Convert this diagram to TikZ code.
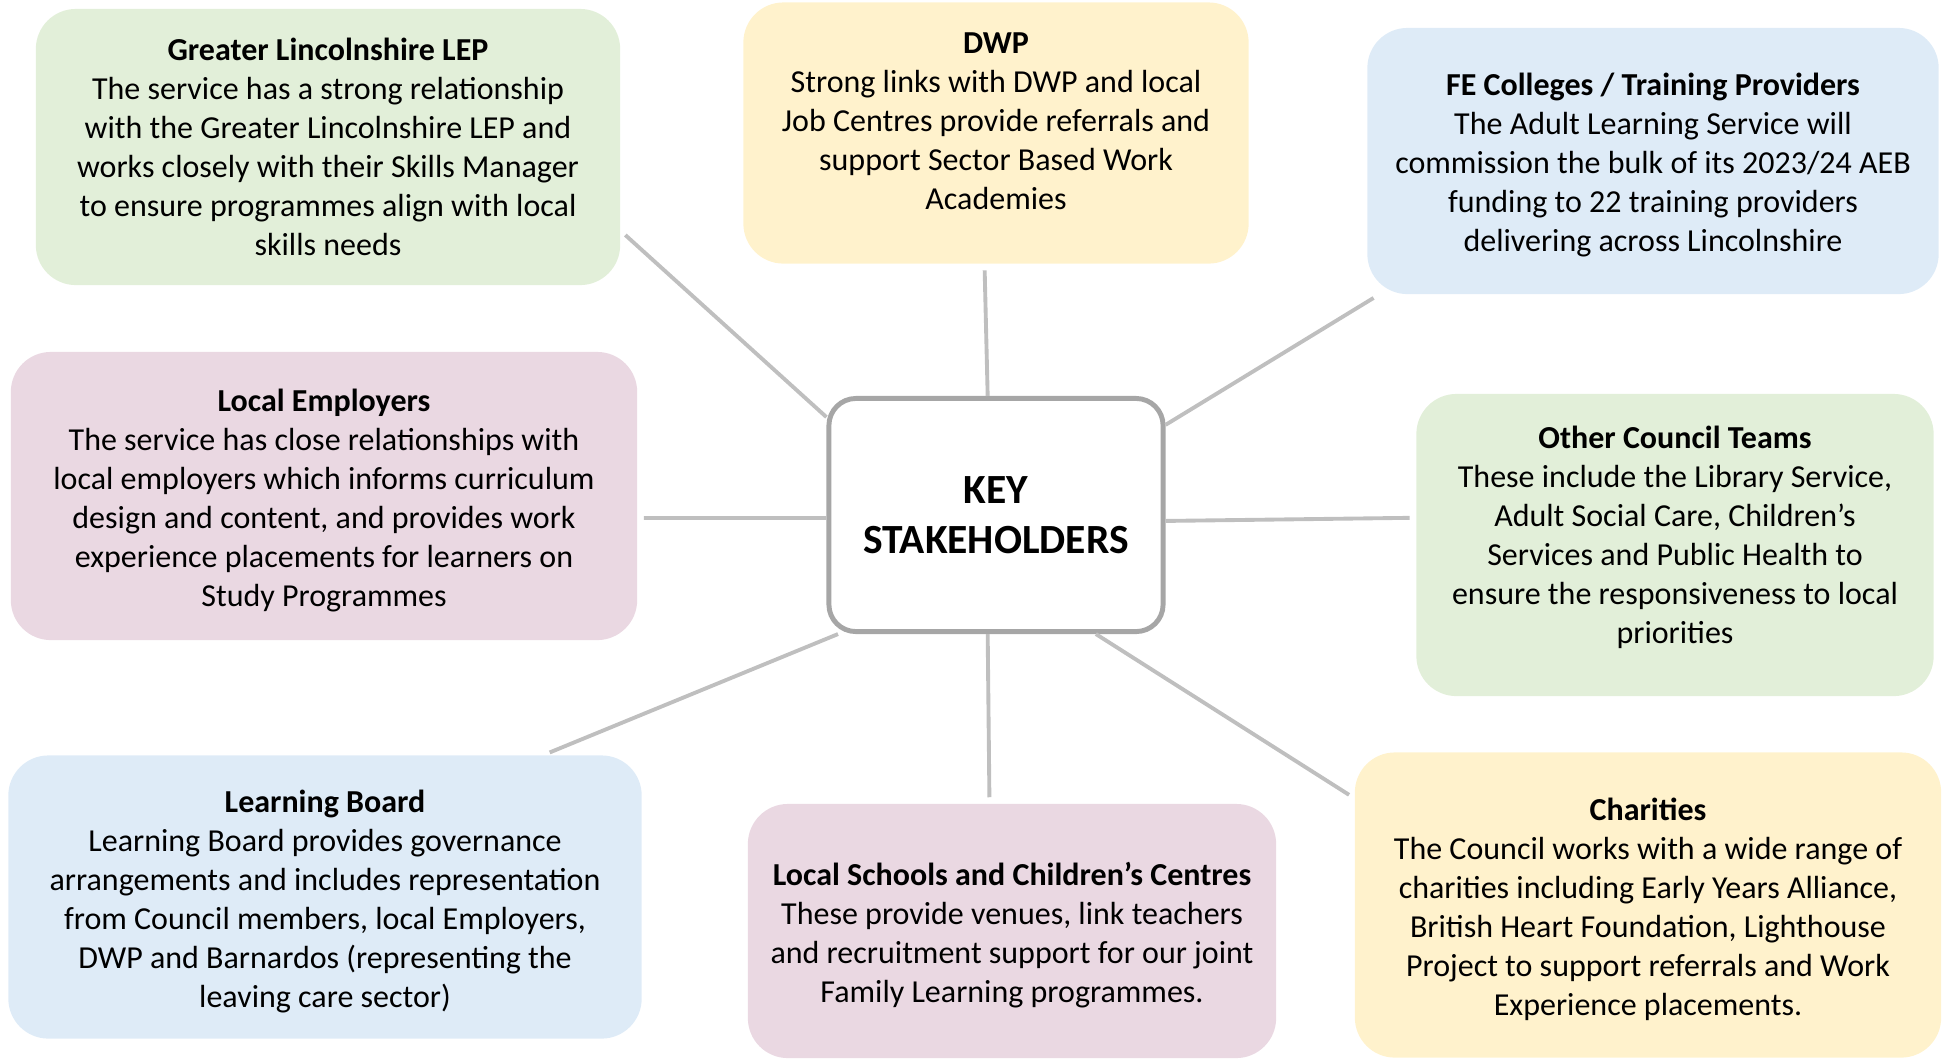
\documentclass[tikz,border=0pt]{standalone}
\usepackage{fontspec}
\setmainfont{Carlito}
\definecolor{leafgreen}{HTML}{E2EFD9}
\definecolor{sand}{HTML}{FFF2CC}
\definecolor{sky}{HTML}{DEEBF7}
\definecolor{blush}{HTML}{EAD8E2}
\definecolor{rimgrey}{HTML}{A6A6A6}
\definecolor{linkgrey}{HTML}{BFBFBF}
% extra room above a heading pushes the text block down a little
\newcommand{\headroom}{\rule{0pt}{0.31cm}}

\tikzset{
  stakebox/.style={rounded corners=0.4cm, align=center, inner sep=0pt,
    font=\fontsize{9.1}{11.1}\selectfont},
  keybox/.style={draw=rimgrey, line width=1.4pt, fill=white, rounded corners=0.27cm,
    align=center, font=\fontsize{11.8}{14.4}\selectfont\bfseries,
    minimum width=3.34cm, minimum height=2.33cm},
  link/.style={draw=linkgrey, line width=1.1pt, shorten >=0.06cm},
}

\begin{document}
\begin{tikzpicture}[x=0.01cm, y=-0.01cm]
\useasboundingbox (0,0) rectangle (1942,1059);

\node [stakebox, fill=leafgreen, minimum width=5.84cm, minimum height=2.76cm] (lep) at (328,147)
{\textbf{Greater Lincolnshire LEP}\\The service has a strong relationship\\with the Greater Lincolnshire LEP and\\works closely with their Skills Manager\\to ensure programmes align with local\\skills needs};

\node [stakebox, fill=sand, minimum width=5.05cm, minimum height=2.61cm] (dwp) at (996,133)
{\textbf{DWP}\\Strong links with DWP and local\\Job Centres provide referrals and\\support Sector Based Work\\Academies\rule[-0.24cm]{0pt}{0pt}};

\node [stakebox, fill=sky, minimum width=5.71cm, minimum height=2.66cm] (fe) at (1653,161)
{\headroom\textbf{FE Colleges / Training Providers}\\The Adult Learning Service will\\commission the bulk of its 2023/24 AEB\\funding to 22 training providers\\delivering across Lincolnshire};

\node [stakebox, fill=blush, minimum width=6.26cm, minimum height=2.88cm] (employers) at (324,496)
{\headroom\textbf{Local Employers}\\The service has close relationships with\\local employers which informs curriculum\\design and content, and provides work\\experience placements for learners on\\Study Programmes};

\node [keybox] (key) at (996,515) {KEY\\STAKEHOLDERS};

\node [stakebox, fill=leafgreen, minimum width=5.17cm, minimum height=3.02cm] (council) at (1675,545)
{\headroom\textbf{Other Council Teams}\\These include the Library Service,\\Adult Social Care, Children’s\\Services and Public Health to\\ensure the responsiveness to local\\priorities\rule[-0.29cm]{0pt}{0pt}};

\node [stakebox, fill=sky, minimum width=6.33cm, minimum height=2.83cm] (board) at (325,897)
{\headroom\textbf{Learning Board}\\Learning Board provides governance\\arrangements and includes representation\\from Council members, local Employers,\\DWP and Barnardos (representing the\\leaving care sector)};

\node [stakebox, fill=blush, minimum width=5.28cm, minimum height=2.54cm] (schools) at (1012,931)
{\headroom\textbf{Local Schools and Children’s Centres}\\These provide venues, link teachers\\and recruitment support for our joint\\Family Learning programmes.};

\node [stakebox, fill=sand, minimum width=5.86cm, minimum height=3.05cm] (charities) at (1648,905)
{\headroom\textbf{Charities}\\The Council works with a wide range of\\charities including Early Years Alliance,\\British Heart Foundation, Lighthouse\\Project to support referrals and Work\\Experience placements.};

\draw [link] (key.150) -- (lep.-16);
\draw [link] (key.94) -- (dwp.-95);
\draw [link] (key.28) -- (fe.206);
\draw [link] (key.181) -- (employers.-4);
\draw [link] (key.-2) -- (council.174);
\draw [link] (key.217) -- (board.33);
\draw [link] (key.-94) -- (schools.100);
\draw [link] (key.-50) -- (charities.160);
\end{tikzpicture}
\end{document}
